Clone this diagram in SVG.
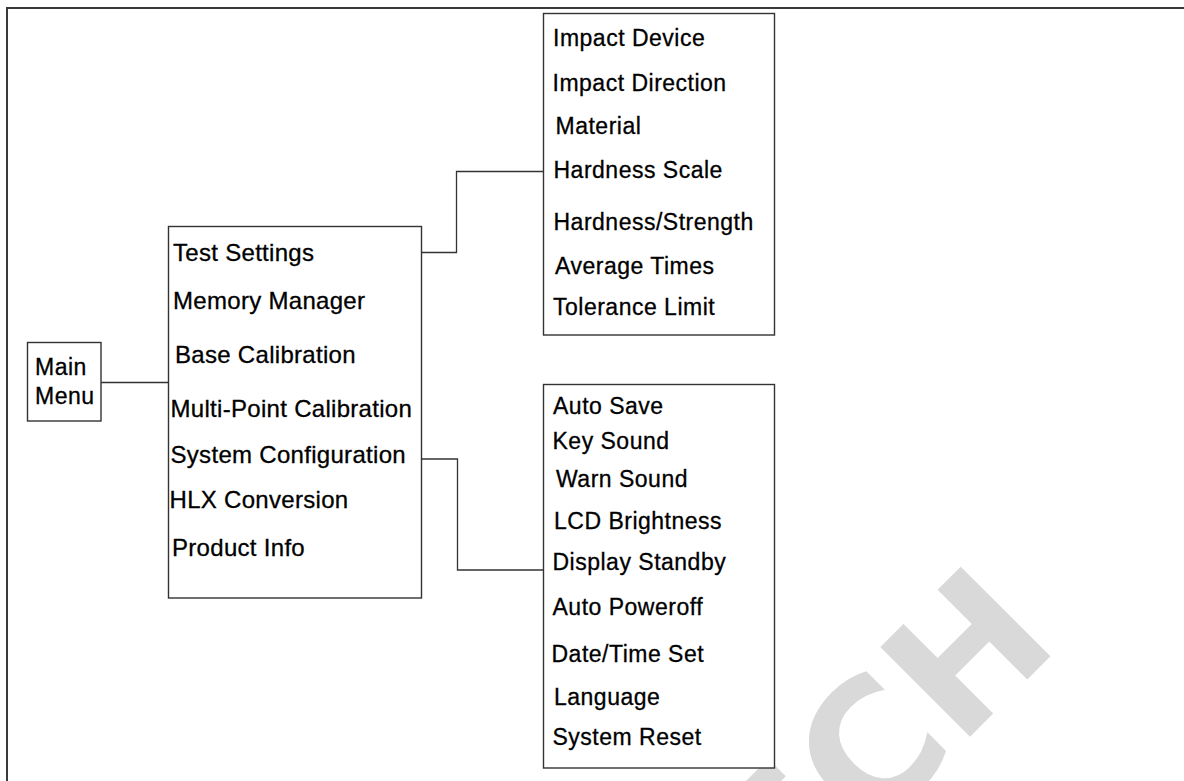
<svg xmlns="http://www.w3.org/2000/svg" width="1184" height="781" viewBox="0 0 1184 781">
<style>
  .box { fill: #ffffff; stroke: #333333; stroke-width: 1.4; }
  .frame { fill: none; stroke: #3a3a3a; stroke-width: 2; }
  .conn { fill: none; stroke: #333333; stroke-width: 1.3; }
  .t { font-family: "Liberation Sans", Arial, sans-serif; fill: #000000; stroke: #000000; stroke-width: 0.3; }
  .mid { font-size: 24px; letter-spacing: 0.3px; }
  .side { font-size: 23px; letter-spacing: 0.5px; }
  .wm { font-family: "DejaVu Sans", sans-serif; font-weight: bold; font-size: 174px; fill: #d9d9d9; }
</style>
<rect x="0" y="0" width="1184" height="781" fill="#ffffff"/>

<g id="watermark">
  <g transform="translate(958.7 748) rotate(-45)">
    <text class="wm" x="0" y="0" text-anchor="end">EC</text>
    <text class="wm" x="0" y="0">H</text>
  </g>
</g>

<g id="frame">
  <polyline class="frame" points="7,781 7,8 1184,8"/>
</g>

<g id="connectors">
  <polyline class="conn" points="101,382.5 168,382.5"/>
  <polyline class="conn" points="421.5,252.5 456.5,252.5 456.5,171.5 543,171.5"/>
  <polyline class="conn" points="421.5,459 457.5,459 457.5,570 543,570"/>
</g>

<g id="main-menu">
  <rect class="box" x="27.5" y="342.5" width="73.5" height="78.5"/>
  <text class="t side" x="35" y="375">Main</text>
  <text class="t side" x="35" y="404">Menu</text>
</g>

<g id="menu-list">
  <rect class="box" x="168.5" y="226.5" width="253" height="371.5"/>
  <text class="t mid" x="173" y="261">Test Settings</text>
  <text class="t mid" x="173" y="309">Memory Manager</text>
  <text class="t mid" x="175" y="363">Base Calibration</text>
  <text class="t mid" x="170.5" y="416.5">Multi-Point Calibration</text>
  <text class="t mid" x="170.5" y="463">System Configuration</text>
  <text class="t mid" x="169.5" y="508">HLX Conversion</text>
  <text class="t mid" x="172" y="555.5">Product Info</text>
</g>

<g id="test-settings-list">
  <rect class="box" x="543.5" y="13.5" width="231" height="321.5"/>
  <text class="t side" x="553" y="45.5">Impact Device</text>
  <text class="t side" x="552.5" y="90.5">Impact Direction</text>
  <text class="t side" x="555.5" y="133.5">Material</text>
  <text class="t side" x="553.5" y="177.5">Hardness Scale</text>
  <text class="t side" x="553.5" y="229.5">Hardness/Strength</text>
  <text class="t side" x="555" y="273.5">Average Times</text>
  <text class="t side" x="553" y="315">Tolerance Limit</text>
</g>

<g id="system-config-list">
  <rect class="box" x="543.5" y="384.5" width="231" height="383.5"/>
  <text class="t side" x="553" y="413.5">Auto Save</text>
  <text class="t side" x="552.5" y="449">Key Sound</text>
  <text class="t side" x="556" y="486.5">Warn Sound</text>
  <text class="t side" x="554" y="528.5">LCD Brightness</text>
  <text class="t side" x="552.5" y="570">Display Standby</text>
  <text class="t side" x="552.5" y="615">Auto Poweroff</text>
  <text class="t side" x="551.5" y="661.5">Date/Time Set</text>
  <text class="t side" x="554" y="705">Language</text>
  <text class="t side" x="552.5" y="745">System Reset</text>
</g>
</svg>
